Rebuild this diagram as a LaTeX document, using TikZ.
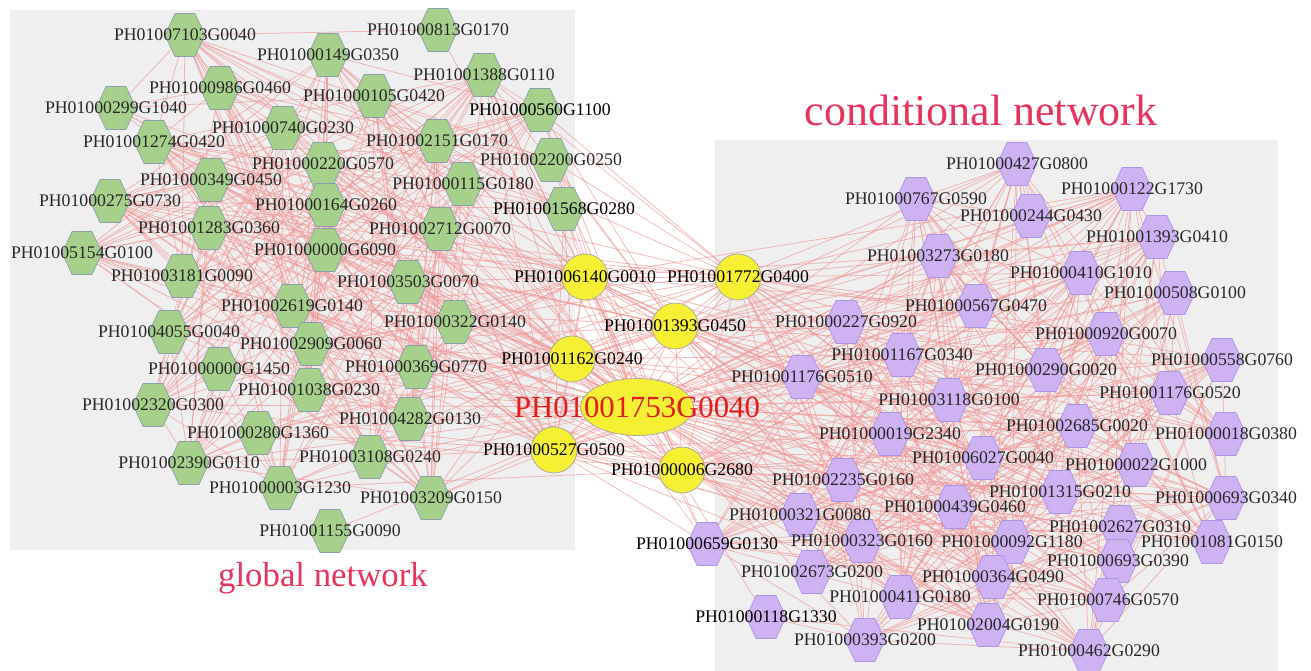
\documentclass[tikz,border=0pt]{standalone}
\usepackage{fontspec}
\setmainfont{Liberation Serif}
\usetikzlibrary{shapes.geometric}

\pgfdeclarelayer{panels}
\pgfdeclarelayer{wires}
\pgfsetlayers{panels,wires,main}

\definecolor{panel}{RGB}{239,239,239}
\definecolor{leaf}{RGB}{168,208,141}
\definecolor{leafline}{RGB}{140,160,170}
\definecolor{lilac}{RGB}{206,178,242}
\definecolor{lilacline}{RGB}{170,150,230}
\definecolor{hub}{RGB}{246,240,52}
\definecolor{wire}{RGB}{240,150,150}
\definecolor{heading}{RGB}{232,52,90}
\definecolor{ink}{RGB}{40,40,40}

\tikzset{
	hexa/.style={regular polygon, regular polygon sides=6, minimum size=0.99cm, inner sep=0pt, xscale=0.806, transform shape, line width=0.4pt},
	gnode/.style={hexa, fill=leaf, draw=leafline},
	pnode/.style={hexa, fill=lilac, draw=lilacline},
	hnode/.style={circle, minimum size=0.92cm, inner sep=0pt, fill=hub, draw=gray!70},
	lbl/.style={font=\fontsize{10.1}{12}\selectfont, text=ink, inner sep=0pt},
	strong/.style={lbl, text=black},
	wire/.style={draw=wire, line width=0.45pt, opacity=0.65},
	heading/.style={text=heading, inner sep=0pt}
}

% node lists: number/x/y/name (pixel units)
\def\greenlist{1/185/35/PH01007103G0040, 2/328/55/PH01000149G0350, 3/438/30/PH01000813G0170,
	4/484/75/PH01001388G0110, 5/220/88/PH01000986G0460, 6/374/96/PH01000105G0420,
	7/540/110/PH01000560G1100, 8/116/108/PH01000299G1040, 9/283/128/PH01000740G0230,
	10/154/142/PH01001274G0420, 11/437/141/PH01002151G0170, 12/323/164/PH01000220G0570,
	13/551/160/PH01002200G0250, 14/211/180/PH01000349G0450, 15/463/184/PH01000115G0180,
	16/110/201/PH01000275G0730, 17/326/205/PH01000164G0260, 18/564/209/PH01001568G0280,
	19/209/228/PH01001283G0360, 20/440/229/PH01002712G0070, 21/82/253/PH01005154G0100,
	22/325/250/PH01000000G6090, 23/182/276/PH01003181G0090, 24/408/282/PH01003503G0070,
	25/292/306/PH01002619G0140, 26/455/322/PH01000322G0140, 27/169/332/PH01004055G0040,
	28/311/344/PH01002909G0060, 29/219/369/PH01000000G1450, 30/416/367/PH01000369G0770,
	31/309/390/PH01001038G0230, 32/153/405/PH01002320G0300, 33/410/419/PH01004282G0130,
	34/258/433/PH01000280G1360, 35/370/457/PH01003108G0240, 36/189/463/PH01002390G0110,
	37/280/488/PH01000003G1230, 38/431/498/PH01003209G0150, 39/330/531/PH01001155G0090}

\def\purplelist{1/1017/164/PH01000427G0800, 2/916/199/PH01000767G0590, 3/1132/189/PH01000122G1730,
	4/1031/216/PH01000244G0430, 5/1157/237/PH01001393G0410, 6/938/256/PH01003273G0180,
	7/1081/273/PH01000410G1010, 8/1175/293/PH01000508G0100, 9/976/306/PH01000567G0470,
	10/846/322/PH01000227G0920, 11/1106/334/PH01000920G0070, 12/902/355/PH01001167G0340,
	13/1222/360/PH01000558G0760, 14/1046/370/PH01000290G0020, 15/802/377/PH01001176G0510,
	16/1170/393/PH01001176G0520, 17/949/400/PH01003118G0100, 18/1077/426/PH01002685G0020,
	19/1226/434/PH01000018G0380, 20/890/434/PH01000019G2340, 21/983/458/PH01006027G0040,
	22/1136/465/PH01000022G1000, 23/843/480/PH01002235G0160, 24/1060/492/PH01001315G0210,
	25/1226/498/PH01000693G0340, 26/955/507/PH01000439G0460, 27/800/515/PH01000321G0080,
	28/1120/527/PH01002627G0310, 29/1212/542/PH01001081G0150, 30/707/544/PH01000659G0130,
	31/862/541/PH01000323G0160, 32/1012/542/PH01000092G1180, 33/1118/561/PH01000693G0390,
	34/812/572/PH01002673G0200, 35/993/577/PH01000364G0490, 36/1108/600/PH01000746G0570,
	37/900/597/PH01000411G0180, 38/766/617/PH01000118G1330, 39/988/625/PH01002004G0190,
	40/865/640/PH01000393G0200, 41/1089/651/PH01000462G0290}

\def\hublist{1/585/277/PH01006140G0010, 2/738/277/PH01001772G0400, 3/675/326/PH01001393G0450,
	4/572/359/PH01001162G0240, 5/554/450/PH01000527G0500, 6/682/470/PH01000006G2680}

\begin{document}
\begin{tikzpicture}[x=0.02cm,y=-0.02cm]
	\useasboundingbox (0,0) rectangle (1311,671);
	\begin{pgfonlayer}{panels}
		\fill[panel] (10,10) rectangle (575,550);
		\fill[panel] (715,140) rectangle (1278,671);
	\end{pgfonlayer}

	% shapes first, labels on top
	\foreach \n/\x/\y/\t in \greenlist
		\node[gnode] (g\n) at (\x,\y) {};
	\foreach \n/\x/\y/\t in \purplelist
		\node[pnode] (p\n) at (\x,\y) {};
	\foreach \n/\x/\y/\t in \hublist
		\node[hnode] (k\n) at (\x,\y) {};
	\node[ellipse, minimum width=2.26cm, minimum height=1.14cm, inner sep=0pt, fill=hub, draw=gray!70] (core) at (637,407) {};

	\foreach \n/\x/\y/\t in \greenlist{
		\ifnum\n=7 \node[strong] at (g\n.center) {\t};
		\else\ifnum\n=18 \node[strong] at (g\n.center) {\t};
		\else \node[lbl] at (g\n.center) {\t};\fi\fi
	}
	\foreach \n/\x/\y/\t in \purplelist{
		\ifnum\n=30 \node[strong] at (p\n.center) {\t};
		\else\ifnum\n=38 \node[strong] at (p\n.center) {\t};
		\else \node[lbl] at (p\n.center) {\t};\fi\fi
	}
	\foreach \n/\x/\y/\t in \hublist
		\node[strong] at (k\n.center) {\t};
	\node[lbl, font=\fontsize{17.5}{20}\selectfont, text={rgb,255:red,225;green,30;blue,30}] at (core.center) {PH01001753G0040};

	\node[heading, font=\fontsize{25}{30}\selectfont] (cond) at (981,110) {conditional network};
	\node[heading, font=\fontsize{19.8}{24}\selectfont] (glob) at (323,578) {global network};

	\begin{pgfonlayer}{wires}
		% global network
		\foreach \i in {1,...,39}{
			\foreach \j in {\i,...,39}{
				\pgfmathtruncatemacro\ok{(\j>\i)&&(mod(\i*\j+\i+2*\j,5)<2)}
				\ifnum\ok=1 \draw[wire] (g\i.center) -- (g\j.center);\fi
			}
			\draw[wire] (g\i.center) -- (core.center);
			\pgfmathtruncatemacro\a{mod(\i,2)}
			\ifnum\a=0 \draw[wire] (g\i.center) -- (k1.center) (g\i.center) -- (k4.center) (g\i.center) -- (k5.center);\fi
			\pgfmathtruncatemacro\b{mod(\i,3)}
			\ifnum\b=1 \draw[wire] (g\i.center) -- (k2.center) (g\i.center) -- (k3.center) (g\i.center) -- (k6.center);\fi
		}
		% conditional network
		\foreach \i in {1,...,41}{
			\foreach \j in {\i,...,41}{
				\pgfmathtruncatemacro\ok{(\j>\i)&&(mod(\i*\j+2*\i+\j,5)<2)}
				\ifnum\ok=1 \draw[wire] (p\i.center) -- (p\j.center);\fi
			}
			\draw[wire] (p\i.center) -- (core.center);
			\pgfmathtruncatemacro\a{mod(\i,2)}
			\ifnum\a=1 \draw[wire] (p\i.center) -- (k2.center) (p\i.center) -- (k3.center) (p\i.center) -- (k6.center);\fi
			\pgfmathtruncatemacro\b{mod(\i,3)}
			\ifnum\b=0 \draw[wire] (p\i.center) -- (k1.center) (p\i.center) -- (k4.center) (p\i.center) -- (k5.center);\fi
		}
		% hubs
		\foreach \i in {1,...,6}{
			\draw[wire] (k\i.center) -- (core.center);
			\foreach \j in {\i,...,6}{
				\ifnum\j>\i \draw[wire] (k\i.center) -- (k\j.center);\fi
			}
		}
	\end{pgfonlayer}
\end{tikzpicture}
\end{document}
